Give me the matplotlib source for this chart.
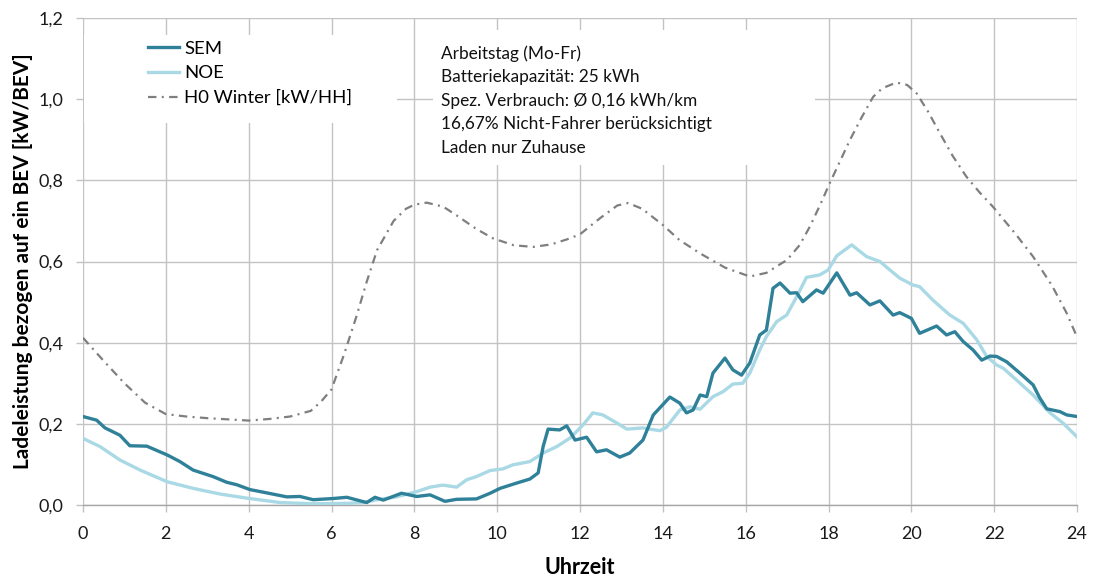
import matplotlib
matplotlib.use("Agg")
import matplotlib.pyplot as plt
from matplotlib.patches import Rectangle
import numpy as np

plt.rcParams['font.family'] = ['Lato', 'DejaVu Sans']

# ---------------------------------------------------------------
# Daten
# ---------------------------------------------------------------
sem_h = [0.0, 0.33, 0.53, 0.89, 1.13, 1.54, 2.04, 2.34, 2.66, 3.14, 3.47, 3.71,
         4.03, 4.43, 4.92, 5.24, 5.56, 6.04, 6.37, 6.85, 7.05, 7.25, 7.69, 8.06,
         8.38, 8.74, 9.02, 9.5, 9.83, 10.07, 10.47, 10.79, 10.99, 11.11, 11.23,
         11.51, 11.68, 11.88, 12.16, 12.40, 12.64, 12.96, 13.2, 13.52, 13.77,
         14.17, 14.41, 14.57, 14.73, 14.9, 15.06, 15.21, 15.5, 15.69, 15.9, 16.1,
         16.34, 16.5, 16.66, 16.83, 17.07, 17.23, 17.38, 17.71, 17.87, 18.2,
         18.52, 18.68, 19.0, 19.24, 19.56, 19.72, 20.0, 20.2, 20.61, 20.85,
         21.05, 21.25, 21.49, 21.7, 21.9, 22.06, 22.3, 22.62, 22.94, 23.1,
         23.27, 23.59, 23.75, 24.0]
sem_v = [0.218, 0.209, 0.190, 0.172, 0.146, 0.145, 0.123, 0.107, 0.086, 0.070,
         0.056, 0.050, 0.038, 0.030, 0.020, 0.021, 0.013, 0.016, 0.019, 0.006,
         0.019, 0.012, 0.029, 0.021, 0.025, 0.009, 0.014, 0.015, 0.029, 0.041,
         0.054, 0.064, 0.079, 0.144, 0.187, 0.185, 0.195, 0.160, 0.167, 0.131,
         0.136, 0.118, 0.128, 0.160, 0.222, 0.266, 0.251, 0.227, 0.234, 0.271,
         0.267, 0.325, 0.362, 0.333, 0.320, 0.350, 0.419, 0.431, 0.534, 0.547,
         0.522, 0.523, 0.501, 0.530, 0.522, 0.572, 0.517, 0.523, 0.493, 0.503,
         0.468, 0.474, 0.460, 0.423, 0.441, 0.419, 0.427, 0.403, 0.382, 0.357,
         0.367, 0.366, 0.353, 0.325, 0.296, 0.264, 0.237, 0.230, 0.222, 0.218]

noe_h = [0.0, 0.41, 0.89, 1.38, 2.04, 2.66, 3.31, 3.95, 4.76, 5.56, 6.37, 6.77,
         7.05, 7.57, 8.06, 8.38, 8.69, 9.02, 9.26, 9.5, 9.83, 10.14, 10.38,
         10.79, 11.11, 11.44, 11.76, 12.07, 12.31, 12.55, 12.89, 13.13, 13.52,
         13.93, 14.09, 14.41, 14.65, 14.9, 15.21, 15.45, 15.69, 15.93, 16.1,
         16.34, 16.5, 16.75, 16.99, 17.23, 17.47, 17.79, 17.99, 18.2, 18.56,
         18.92, 19.24, 19.72, 20.04, 20.2, 20.52, 20.93, 21.25, 21.58, 21.82,
         22.06, 22.22, 22.54, 22.94, 23.35, 23.66, 24.0]
noe_v = [0.164, 0.144, 0.111, 0.086, 0.057, 0.041, 0.027, 0.017, 0.006, 0.003,
         0.004, 0.006, 0.012, 0.020, 0.033, 0.044, 0.049, 0.044, 0.062, 0.070,
         0.085, 0.089, 0.099, 0.107, 0.128, 0.144, 0.165, 0.197, 0.227, 0.222,
         0.202, 0.187, 0.190, 0.183, 0.192, 0.234, 0.242, 0.236, 0.267, 0.279,
         0.298, 0.300, 0.325, 0.382, 0.415, 0.452, 0.468, 0.513, 0.561, 0.567,
         0.579, 0.614, 0.641, 0.612, 0.600, 0.559, 0.542, 0.538, 0.505, 0.468,
         0.448, 0.407, 0.366, 0.345, 0.337, 0.308, 0.271, 0.227, 0.202, 0.168]

h0_h = [0.0, 0.5, 1.0, 1.5, 2.0, 2.5, 3.0, 3.5, 4.0, 4.5, 5.0, 5.5, 5.75, 6.0,
        6.3, 6.6, 6.85, 7.1, 7.5, 7.8, 8.0, 8.3, 8.7, 9.0, 9.5, 9.9, 10.4, 10.87,
        11.3, 11.7, 12.0, 12.5, 12.9, 13.16, 13.5, 14.0, 14.4, 14.9, 15.5, 16.1,
        16.5, 17.0, 17.3, 17.55, 17.8, 18.03, 18.52, 18.8, 19.08, 19.3, 19.64,
        19.9, 20.13, 20.4, 20.69, 21.0, 21.33, 21.65, 21.97, 22.5, 22.94, 23.4,
        23.75, 24.0]
h0_v = [0.412, 0.355, 0.300, 0.252, 0.224, 0.218, 0.214, 0.211, 0.208, 0.212,
        0.218, 0.232, 0.255, 0.285, 0.370, 0.464, 0.550, 0.628, 0.700, 0.730,
        0.740, 0.745, 0.735, 0.715, 0.680, 0.657, 0.640, 0.636, 0.642, 0.655,
        0.667, 0.708, 0.738, 0.744, 0.730, 0.690, 0.653, 0.620, 0.585, 0.563,
        0.572, 0.604, 0.640, 0.686, 0.740, 0.793, 0.900, 0.955, 1.006, 1.027,
        1.041, 1.035, 1.014, 0.970, 0.916, 0.860, 0.809, 0.770, 0.735, 0.670,
        0.612, 0.540, 0.473, 0.414]

labels = ['SEM', 'NOE', 'H0 Winter [kW/HH]']
info = ("Arbeitstag (Mo-Fr)\n"
        "Batteriekapazität: 25 kWh\n"
        "Spez. Verbrauch: \u00d8 0,16 kWh/km\n"
        "16,67% Nicht-Fahrer berücksichtigt\n"
        "Laden nur Zuhause")

xticks = np.arange(0, 25, 2)
yticks = np.arange(0, 1.21, 0.2)

# ---------------------------------------------------------------
# Grafik
# ---------------------------------------------------------------
fig = plt.figure(figsize=(10.94, 5.76), dpi=100)
ax = fig.add_axes([83/1094, 71/576, 994/1094, 487/576])
ax.set_axisbelow(True)

gridc = '#c3c3c3'
ax.grid(True, color=gridc, lw=1.0)
for s in ['top', 'right', 'left']:
    ax.spines[s].set_visible(False)
ax.spines['bottom'].set_color('#a6a6a6')
ax.spines['bottom'].set_linewidth(1.0)

ax.plot(sem_h, sem_v, color='#2f8199', lw=2.4, solid_joinstyle='round', label=labels[0], zorder=4)
ax.plot(noe_h, noe_v, color='#a9d9e5', lw=2.4, solid_joinstyle='round', label=labels[1], zorder=3)
ax.plot(h0_h, h0_v, color='#7f7f7f', lw=1.6, dashes=(3.8, 2.4, 0.9, 2.4),
        label=labels[2], zorder=2)

ax.set_xlim(0, 24)
ax.set_ylim(0, 1.2)
ax.set_xticks(xticks)
ax.set_yticks(yticks)
ax.set_yticklabels([('%.1f' % v).replace('.', ',') for v in yticks])
ax.tick_params(axis='both', labelsize=13, colors=gridc, labelcolor='#1a1a1a',
               length=5, width=1)
ax.tick_params(axis='x', pad=10)
ax.tick_params(axis='y', pad=9)

ax.set_xlabel('Uhrzeit', fontsize=15.5, fontweight='bold', labelpad=11)
ax.set_ylabel('Ladeleistung bezogen auf ein BEV [kW/BEV]', fontsize=15,
              fontweight='bold', labelpad=4)

# weisse Flaechen hinter Legende und Textfeld
ax.add_patch(Rectangle((0.001, 0.784), 0.315, 0.181, transform=ax.transAxes,
                       facecolor='white', edgecolor='none', zorder=1))
ax.add_patch(Rectangle((0.352, 0.698), 0.384, 0.277, transform=ax.transAxes,
                       facecolor='white', edgecolor='none', zorder=1))

leg = ax.legend(loc='upper left', bbox_to_anchor=(0.0654, 0.953), frameon=False,
                fontsize=13.3, handlelength=1.7, handletextpad=0.25,
                labelspacing=0.46, borderpad=0, borderaxespad=0)

ax.text(0.3602, 0.944, info, transform=ax.transAxes, ha='left', va='top',
        fontsize=12.4, linespacing=1.58, color='#111111', zorder=5)

fig.savefig('out.png', dpi=100)
